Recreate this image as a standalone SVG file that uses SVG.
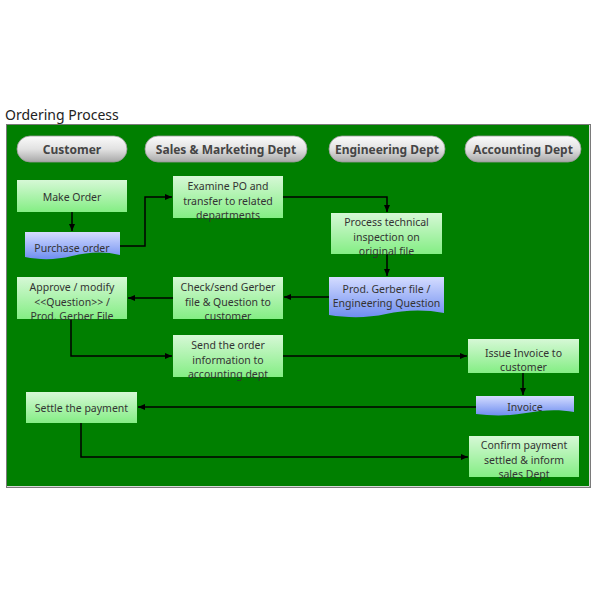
<svg xmlns="http://www.w3.org/2000/svg" width="600" height="600" viewBox="0 0 600 600">
<defs>
<linearGradient id="gBox" x1="0" y1="0" x2="0" y2="1">
<stop offset="0" stop-color="#d6f8d6"/>
<stop offset="1" stop-color="#84ee84"/>
</linearGradient>
<linearGradient id="gDoc" x1="0" y1="0" x2="0" y2="1">
<stop offset="0" stop-color="#d4dcff"/>
<stop offset="1" stop-color="#6f8ef0"/>
</linearGradient>
<linearGradient id="gPill" x1="0" y1="0" x2="0" y2="1">
<stop offset="0" stop-color="#fbfbfb"/>
<stop offset="0.5" stop-color="#e2e2e2"/>
<stop offset="1" stop-color="#a8a8a8"/>
</linearGradient>
<marker id="arr" markerWidth="8" markerHeight="8" refX="7" refY="4" orient="auto" markerUnits="userSpaceOnUse">
<path d="M0,1 L7,4 L0,7 Z" fill="#000"/>
</marker>
</defs>
<style>
.box{fill:url(#gBox);}
.doc{fill:url(#gDoc);}
.pill{fill:url(#gPill);stroke:#9a9a9a;stroke-width:0.8;}
.t{font-family:"Noto Sans","Open Sans","DejaVu Sans",sans-serif;font-size:10.5px;fill:#333;text-anchor:middle;}
.h{font-family:"Noto Sans","Open Sans","DejaVu Sans",sans-serif;font-size:12px;font-weight:bold;fill:#454545;text-anchor:middle;}
.c{fill:none;stroke:#000;stroke-width:1.5;}
</style>
<rect width="600" height="600" fill="#fff"/>
<text x="5" y="120" font-family="Noto Sans, Open Sans, sans-serif" font-size="14" fill="#222">Ordering Process</text>
<rect x="6.5" y="124.5" width="584" height="363" fill="#007f00" stroke="#7a7a7a" stroke-width="1"/>
<path d="M589.5,125 V486.5 H7" fill="none" stroke="#d8d8d8" stroke-width="1"/>

<g id="lane-customer"><rect class="pill" x="17" y="136" width="110" height="26" rx="13"/><text class="h" x="72" y="153.5">Customer</text></g>
<g id="lane-sales"><rect class="pill" x="145" y="136" width="162" height="26" rx="13"/><text class="h" x="226" y="153.5">Sales &amp; Marketing Dept</text></g>
<g id="lane-eng"><rect class="pill" x="329" y="136" width="116" height="26" rx="13"/><text class="h" x="387" y="153.5">Engineering Dept</text></g>
<g id="lane-acct"><rect class="pill" x="465" y="136" width="116" height="26" rx="13"/><text class="h" x="523" y="153.5">Accounting Dept</text></g>

<g id="connectors">
<path class="c" d="M72,212 V231" marker-end="url(#arr)"/>
<path class="c" d="M120,246 H145 V197 H172" marker-end="url(#arr)"/>
<path class="c" d="M283,197 H387 V212" marker-end="url(#arr)"/>
<path class="c" d="M387,254 V276" marker-end="url(#arr)"/>
<path class="c" d="M329,297 H284" marker-end="url(#arr)"/>
<path class="c" d="M173,298 H128" marker-end="url(#arr)"/>
<path class="c" d="M71,319 V356 H172" marker-end="url(#arr)"/>
<path class="c" d="M283,356 H467" marker-end="url(#arr)"/>
<path class="c" d="M523,373 V395" marker-end="url(#arr)"/>
<path class="c" d="M476,407 H138" marker-end="url(#arr)"/>
<path class="c" d="M81,423 V457 H468" marker-end="url(#arr)"/>
</g>

<g id="make-order"><rect class="box" x="17" y="180" width="110" height="32"/><text class="t" x="72" y="201">Make Order</text></g>
<g id="purchase-order"><path class="doc" d="M25,232 H120 V255 C104,251 88,252 72,256 C56,260 40,260 25,257 Z"/><text class="t" x="72" y="251.5">Purchase order</text></g>
<g id="examine-po"><rect class="box" x="173" y="176" width="110" height="42"/><text class="t" x="228" y="190">Examine PO and</text><text class="t" x="228" y="204.5">transfer to related</text><text class="t" x="228" y="219">departments</text></g>
<g id="process-tech"><rect class="box" x="331" y="213" width="111" height="41"/><text class="t" x="386.5" y="226">Process technical</text><text class="t" x="386.5" y="241">inspection on</text><text class="t" x="386.5" y="255">original file</text></g>
<g id="prod-gerber"><path class="doc" d="M329,277 H444 V313 C424,309 404,310 386,314 C368,318 348,318 329,315 Z"/><text class="t" x="386.5" y="293">Prod. Gerber file /</text><text class="t" x="386.5" y="307">Engineering Question</text></g>
<g id="check-send"><rect class="box" x="173" y="277" width="110" height="42"/><text class="t" x="228" y="291">Check/send Gerber</text><text class="t" x="228" y="306">file &amp; Question to</text><text class="t" x="228" y="320">customer</text></g>
<g id="approve"><rect class="box" x="17" y="277" width="110" height="42"/><text class="t" x="72" y="291">Approve / modify</text><text class="t" x="72" y="306">&lt;&lt;Question&gt;&gt; /</text><text class="t" x="72" y="320">Prod. Gerber File</text></g>
<g id="send-order"><rect class="box" x="173" y="335" width="110" height="42"/><text class="t" x="228" y="349">Send the order</text><text class="t" x="228" y="363.5">information to</text><text class="t" x="228" y="378">accounting dept</text></g>
<g id="issue-invoice"><rect class="box" x="468" y="339" width="111" height="34"/><text class="t" x="523.5" y="357">Issue Invoice to</text><text class="t" x="523.5" y="371">customer</text></g>
<g id="invoice"><path class="doc" d="M476,396 H574 V412 C558,409 542,410 526,413 C510,416 492,416 476,414 Z"/><text class="t" x="525" y="410.5">Invoice</text></g>
<g id="settle"><rect class="box" x="26" y="392" width="111" height="31"/><text class="t" x="81.5" y="411.5">Settle the payment</text></g>
<g id="confirm"><rect class="box" x="469" y="436" width="110" height="41"/><text class="t" x="524" y="449">Confirm payment</text><text class="t" x="524" y="463.5">settled &amp; inform</text><text class="t" x="524" y="478">sales Dept</text></g>
</svg>
